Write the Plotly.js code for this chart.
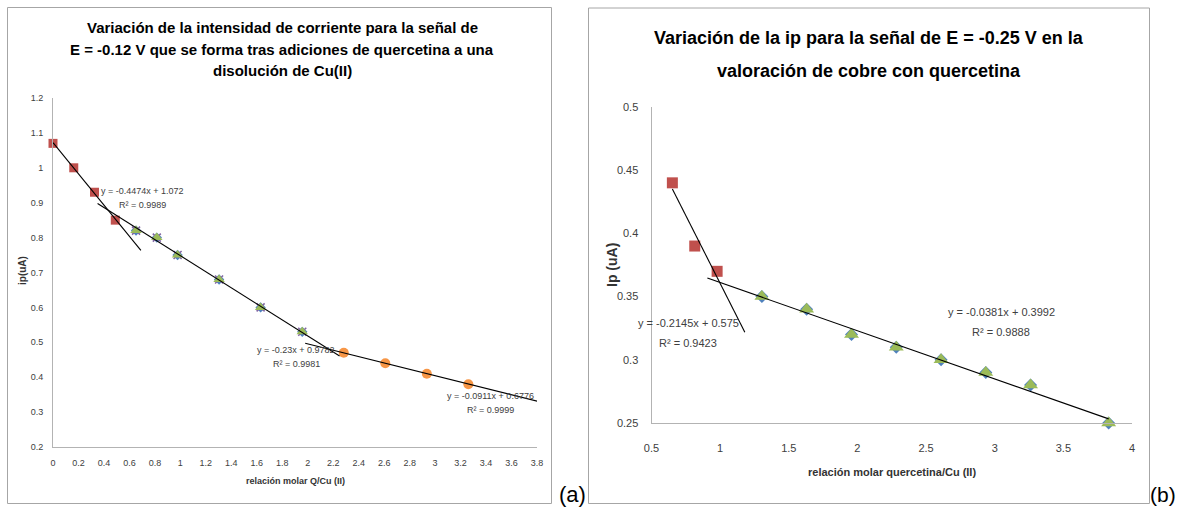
<!DOCTYPE html>
<html>
<head>
<meta charset="utf-8">
<script src="https://cdn.plot.ly/plotly-3.0.1.min.js"></script>
<style>html,body{margin:0;padding:0;background:#fff;}#chart{width:1182px;height:508px;}</style>
</head>
<body>
<div id="chart"></div>
<script>
// ---------- Chart (a) data ----------
const aSquareX = [0, 0.163, 0.326, 0.489];
const aSquareY = [1.07, 1.0, 0.93, 0.85];
const aTriangleX = [0.652, 0.815, 0.978, 1.304, 1.630, 1.957];
const aTriangleY = [0.82, 0.80, 0.75, 0.68, 0.60, 0.53];
const aCircleX = [2.283, 2.609, 2.935, 3.261];
const aCircleY = [0.47, 0.44, 0.41, 0.38];
const aFitSlope = [-0.4474, -0.23, -0.0911];
const aFitIntercept = [1.072, 0.9782, 0.6776];
const aFitFrom = [0, 0.35, 1.98];
const aFitTo = [0.69, 2.25, 3.81];
const aFitEq = ["y = -0.4474x + 1.072", "y = -0.23x + 0.9782", "y = -0.0911x + 0.6776"];
const aFitR2 = ["R² = 0.9989", "R² = 0.9981", "R² = 0.9999"];
const aXTicks = [0,0.2,0.4,0.6,0.8,1,1.2,1.4,1.6,1.8,2,2.2,2.4,2.6,2.8,3,3.2,3.4,3.6,3.8];
const aXTickText = ["0","0.2","0.4","0.6","0.8","1","1.2","1.4","1.6","1.8","2","2.2","2.4","2.6","2.8","3","3.2","3.4","3.6","3.8"];
const aYTicks = [0.2,0.3,0.4,0.5,0.6,0.7,0.8,0.9,1,1.1,1.2];
const aYTickText = ["0.2","0.3","0.4","0.5","0.6","0.7","0.8","0.9","1","1.1","1.2"];
const aTitleLines = ["Variación de la intensidad de corriente para la señal de",
                     "E = -0.12 V que se forma tras adiciones de quercetina a una",
                     "disolución de Cu(II)"];
const aXTitle = "relación molar Q/Cu (II)";
const aYTitle = "ip(uA)";

// ---------- Chart (b) data ----------
const bSquareX = [0.652, 0.815, 0.978];
const bSquareY = [0.44, 0.39, 0.37];
const bTriangleX = [1.304, 1.630, 1.957, 2.283, 2.609, 2.935, 3.261, 3.83];
const bTriangleY = [0.35, 0.34, 0.32, 0.31, 0.30, 0.29, 0.28, 0.25];
const bFitSlope = [-0.2145, -0.0381];
const bFitIntercept = [0.575, 0.3992];
const bFitFrom = [0.652, 0.907];
const bFitTo = [1.18, 3.83];
const bFitEq = ["y = -0.2145x + 0.575", "y = -0.0381x + 0.3992"];
const bFitR2 = ["R² = 0.9423", "R² = 0.9888"];
const bXTicks = [0.5,1,1.5,2,2.5,3,3.5,4];
const bXTickText = ["0.5","1","1.5","2","2.5","3","3.5","4"];
const bYTicks = [0.25,0.3,0.35,0.4,0.45,0.5];
const bYTickText = ["0.25","0.3","0.35","0.4","0.45","0.5"];
const bTitleLines = ["Variación de la ip para la señal de E = -0.25 V en la",
                     "valoración de cobre con quercetina"];
const bXTitle = "relación molar quercetina/Cu (II)";
const bYTitle = "Ip (uA)";

const panelLabels = ["(a)", "(b)"];

// ---------- helpers ----------
const W = 1182, H = 508;
const px = x => x / W;
const py = y => 1 - y / H;
const FONT = "Liberation Sans, Arial, sans-serif";
const RED = "#c0504d", GREEN = "#9bbb59", BLUE = "#4f81bd", PURPLE = "#8064a2", ORANGE = "#f79646";

function fitTrace(slope, icpt, x0, x1, xa, ya) {
  const xs = [x0, x1];
  return {x: xs, y: xs.map(v => slope * v + icpt), xaxis: xa, yaxis: ya,
          mode: "lines", line: {color: "#000", width: 1.1}, hoverinfo: "skip", cliponaxis: false};
}
function markers(x, y, xa, ya, symbol, color, size) {
  return {x: x, y: y, xaxis: xa, yaxis: ya, mode: "markers", cliponaxis: false,
          marker: {symbol: symbol, color: color, size: size, line: {width: 0}}};
}

const traces = [
  markers(aTriangleX, aTriangleY, "x", "y", "diamond", BLUE, 8),
  markers(aTriangleX, aTriangleY, "x", "y", "x-thin-open", PURPLE, 8),
  markers(aSquareX, aSquareY, "x", "y", "square", RED, 9),
  markers(aTriangleX, aTriangleY, "x", "y", "triangle-up", GREEN, 10),
  markers(aCircleX, aCircleY, "x", "y", "circle", ORANGE, 10),
  markers(bTriangleX, bTriangleY, "x2", "y2", "diamond", BLUE, 10),
  markers(bSquareX, bSquareY, "x2", "y2", "square", RED, 11),
  markers(bTriangleX, bTriangleY, "x2", "y2", "triangle-up", GREEN, 13)
];
traces[1].marker.line = {color: PURPLE, width: 1.5};
for (let i = 0; i < aFitSlope.length; i++) traces.push(fitTrace(aFitSlope[i], aFitIntercept[i], aFitFrom[i], aFitTo[i], "x", "y"));
for (let i = 0; i < bFitSlope.length; i++) traces.push(fitTrace(bFitSlope[i], bFitIntercept[i], bFitFrom[i], bFitTo[i], "x2", "y2"));

function axis(domain, range, tv, tt, size, standoff, anchor) {
  return {domain: domain, range: range, tickvals: tv, ticktext: tt, anchor: anchor,
          showline: true, linecolor: "#b3b3b3", linewidth: 1, showgrid: false, zeroline: false,
          ticks: "", ticklabelstandoff: standoff, automargin: false,
          tickfont: {family: FONT, size: size, color: "#404040"}};
}

const ann = [];
function txt(text, x, y, size, color, extra) {
  ann.push(Object.assign({text: text, x: px(x), y: py(y), xref: "paper", yref: "paper",
    xanchor: "center", yanchor: "middle", showarrow: false,
    font: {family: FONT, size: size, color: color}}, extra || {}));
}
// titles
const aTitleY = [27, 49, 71];
aTitleLines.forEach((t, i) => txt("<b>" + t + "</b>", 282, aTitleY[i], 15, "#000"));
const bTitleY = [38, 71];
bTitleLines.forEach((t, i) => txt("<b>" + t + "</b>", 869, bTitleY[i], 18, "#000"));
// axis titles
txt("<b>" + aXTitle + "</b>", 295, 481, 9, "#333");
txt("<b>" + aYTitle + "</b>", 22, 271, 10, "#333", {textangle: -90});
txt("<b>" + bXTitle + "</b>", 892, 472, 11, "#333");
txt("<b>" + bYTitle + "</b>", 612, 265, 14, "#333", {textangle: -90});
// trendline equations
const aEqPos = [[142, 191], [296, 350], [490, 396]];
aFitEq.forEach((t, i) => { txt(t, aEqPos[i][0], aEqPos[i][1], 9, "#404040"); txt(aFitR2[i], aEqPos[i][0], aEqPos[i][1] + 14, 9, "#404040"); });
const bEqPos = [[688, 323], [1001, 312]];
bFitEq.forEach((t, i) => { txt(t, bEqPos[i][0], bEqPos[i][1], 11, "#404040"); txt(bFitR2[i], bEqPos[i][0], bEqPos[i][1] + 20, 11, "#404040"); });
// panel labels
txt(panelLabels[0], 572, 494, 22, "#000");
txt(panelLabels[1], 1163, 494, 21, "#000");

const layout = {
  width: W, height: H, margin: {l: 0, r: 0, t: 0, b: 0},
  paper_bgcolor: "#fff", plot_bgcolor: "rgba(0,0,0,0)", showlegend: false,
  xaxis: axis([px(53), px(537)], [0, 3.8], aXTicks, aXTickText, 9, 7, "y"),
  yaxis: axis([py(447), py(98)], [0.2, 1.2], aYTicks, aYTickText, 9, 7, "x"),
  xaxis2: axis([px(651.5), px(1132)], [0.5, 4], bXTicks, bXTickText, 11, 15, "y2"),
  yaxis2: axis([py(423), py(107)], [0.25, 0.5], bYTicks, bYTickText, 11, 10, "x2"),
  shapes: [
    {type: "rect", xref: "paper", yref: "paper", x0: px(7.5), x1: px(551.5), y0: py(503.5), y1: py(7.5), line: {color: "#a6a6a6", width: 1}},
    {type: "rect", xref: "paper", yref: "paper", x0: px(588.5), x1: px(1149.5), y0: py(503.5), y1: py(8), line: {color: "#a6a6a6", width: 1}}
  ],
  annotations: ann
};

Plotly.newPlot("chart", traces, layout, {staticPlot: true, displayModeBar: false});
</script>
</body>
</html>
